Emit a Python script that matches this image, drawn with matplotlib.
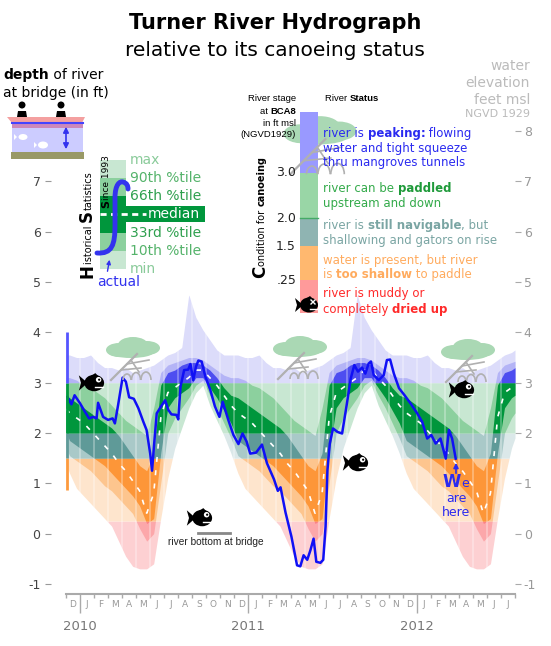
import numpy as np
import pandas as pd
import matplotlib
matplotlib.use("Agg")
import matplotlib.pyplot as plt
from matplotlib.patches import Rectangle, Ellipse, Polygon, Arc, PathPatch, FancyArrowPatch
from matplotlib.path import Path
from matplotlib.lines import Line2D

plt.rcParams['font.family'] = ['DejaVu Sans']
plt.rcParams['axes.unicode_minus'] = False

W, H = 551, 646

# historical stage statistics (ft), half-month steps of a year starting in December
stat_t = np.arange(0.25, 12, 0.5)
p_min = [1.2, 0.9, 0.75, 0.6, 0.45, 0.3, 0.15, -0.15, -0.45, -0.65, -0.7, -0.7,
         -0.6, 0.3, 1.1, 1.7, 2.1, 2.5, 2.8, 2.95, 2.55, 2.25, 1.95, 1.6]
p10 = [1.55, 1.45, 1.35, 1.25, 1.1, 0.95, 0.85, 0.7, 0.55, 0.4, 0.1, -0.15,
       0.0, 1.0, 2.0, 2.3, 2.5, 2.7, 2.95, 3.05, 2.75, 2.5, 2.2, 1.9]
p33 = [1.85, 1.75, 1.65, 1.55, 1.45, 1.35, 1.2, 1.05, 0.9, 0.75, 0.55, 0.2,
       0.3, 1.6, 2.5, 2.7, 2.8, 2.9, 3.1, 3.1, 2.9, 2.7, 2.45, 2.2]
p50 = [2.4, 2.3, 2.2, 2.05, 1.9, 1.75, 1.6, 1.4, 1.25, 1.05, 0.85, 0.4,
       0.8, 2.3, 2.8, 2.9, 3.0, 3.1, 3.25, 3.25, 3.1, 2.95, 2.75, 2.55]
p66 = [2.7, 2.6, 2.5, 2.4, 2.3, 2.2, 2.1, 1.95, 1.75, 1.55, 1.35, 1.25,
       1.6, 2.95, 3.2, 3.25, 3.35, 3.4, 3.4, 3.35, 3.25, 3.1, 2.9, 2.75]
p90 = [3.1, 3.05, 2.95, 2.9, 2.8, 2.7, 2.55, 2.4, 2.25, 2.15, 2.05, 1.95,
       2.5, 3.2, 3.35, 3.4, 3.45, 3.5, 3.5, 3.45, 3.35, 3.25, 3.15, 3.1]
p_max = [3.55, 3.5, 3.5, 3.55, 3.4, 3.3, 3.3, 3.25, 3.3, 3.2, 3.25, 3.3,
         3.35, 3.45, 3.55, 3.6, 3.7, 4.75, 4.3, 4.05, 3.85, 3.65, 3.55, 3.55]

# actual river stage
actual_dates = ['2009-12-04', '2009-12-13', '2009-12-20', '2010-01-01', '2010-01-12', '2010-01-21',
                '2010-01-30', '2010-02-06', '2010-02-09', '2010-02-19', '2010-03-01', '2010-03-11',
                '2010-03-16', '2010-03-23', '2010-04-02', '2010-04-09', '2010-04-16', '2010-04-26',
                '2010-05-06', '2010-05-17', '2010-05-24', '2010-06-01', '2010-06-05', '2010-06-09',
                '2010-06-15', '2010-06-23', '2010-07-03', '2010-07-10', '2010-07-17', '2010-07-28',
                '2010-08-01', '2010-08-06', '2010-08-14', '2010-08-23', '2010-08-28', '2010-09-03',
                '2010-09-09', '2010-09-14', '2010-09-21', '2010-09-29', '2010-10-10', '2010-10-20',
                '2010-10-30', '2010-11-06', '2010-11-18', '2010-11-29', '2010-12-10', '2010-12-19',
                '2010-12-28', '2011-01-05', '2011-01-18', '2011-01-31', '2011-02-10', '2011-02-24',
                '2011-03-04', '2011-03-10', '2011-03-21', '2011-04-03', '2011-04-15', '2011-04-22',
                '2011-04-29', '2011-05-07', '2011-05-14', '2011-05-21', '2011-05-27', '2011-06-05',
                '2011-06-11', '2011-06-16', '2011-06-20', '2011-06-25', '2011-07-02', '2011-07-12',
                '2011-07-22', '2011-08-01', '2011-08-10', '2011-08-18', '2011-08-26', '2011-09-04',
                '2011-09-11', '2011-09-18', '2011-09-23', '2011-09-29', '2011-10-10', '2011-10-21',
                '2011-10-28', '2011-11-04', '2011-11-12', '2011-11-23', '2011-12-05', '2011-12-18',
                '2012-01-02', '2012-01-13', '2012-01-24', '2012-02-02', '2012-02-11', '2012-02-21',
                '2012-03-03', '2012-03-10', '2012-03-17', '2012-03-25']
actual_stage = [2.72, 2.57, 2.75, 2.59, 2.42, 2.29, 2.32, 2.29, 2.60, 2.32, 2.26, 2.29,
                2.19, 2.55, 3.10, 3.02, 2.71, 2.68, 2.49, 2.22, 2.06, 1.59, 1.25, 1.73,
                2.39, 2.51, 2.65, 2.46, 2.37, 2.36, 2.27, 2.92, 3.25, 3.26, 3.37, 3.05,
                3.32, 3.44, 3.42, 3.12, 2.85, 2.53, 2.32, 2.62, 2.26, 1.96, 1.78, 1.99,
                1.83, 1.59, 1.61, 1.77, 1.40, 1.08, 0.85, 0.92, 0.42, -0.06, -0.63, -0.65,
                -0.43, -0.52, -0.33, -0.10, -0.56, -0.58, -0.52, 0.14, 1.26, 1.79, 2.09, 2.02,
                1.99, 2.55, 3.08, 3.35, 3.22, 3.30, 3.18, 3.38, 3.42, 3.15, 3.05, 3.15,
                3.45, 3.46, 3.18, 2.89, 2.75, 2.59, 2.39, 2.22, 1.89, 1.96, 1.79, 1.89,
                1.49, 2.06, 1.89, 1.49]

# canoeing zones: dried up, too shallow, navigable, paddled, peaking
zone_edges = [-5, 0.25, 1.5, 2.0, 3.0, 10]
zone_light = ['#fdd0d2', '#fee5cd', '#dbe8e9', '#c8e7d2', '#dcdcfa']
zone_mid = ['#fca7aa', '#fdc58e', '#a9c9c8', '#8cd09e', '#b4b4f6']
zone_dark = ['#fb8184', '#fd9638', '#5f9a98', '#00963c', '#4d4df0']
zone_bar = ['#ff5555', '#fd9a3d', '#5f9a98', '#009a3e', '#5555ff']
legend_colors = ['#ff9a9a', '#ffb86f', '#8fb4b2', '#99d6a6', '#9999ff']
today_range = [0.86, 4.0]

month_letters = list('DJFMAMJJASONDJFMAMJJASONDJFMAMJJ')
year_labels = ['2010', '2011', '2012']
year_pos = [1, 13, 25]


def month_index(d):
    d = pd.Timestamp(d)
    return (d.year - 2009) * 12 + d.month - 12 + (d.day - 1) / d.days_in_month


fig = plt.figure(figsize=(W / 100, H / 100), dpi=100)
ax = fig.add_axes([66 / W, 1 - 594 / H, 449 / W, 478 / H])

t = np.linspace(0, 32, 1601)


def seasonal(v):
    return np.interp(t, stat_t, v, period=12)


levels = [(seasonal(p_min), seasonal(p_max)), (seasonal(p10), seasonal(p90)),
          (seasonal(p33), seasonal(p66))]
for (low, high), shades in zip(levels, [zone_light, zone_mid, zone_dark]):
    for i in range(5):
        a = np.clip(low, zone_edges[i], zone_edges[i + 1])
        b = np.clip(high, zone_edges[i], zone_edges[i + 1])
        ax.fill_between(t, a, b, color=shades[i], lw=0, antialiased=False, zorder=1)

ax.vlines(np.arange(1, 32), -1.2, 5, colors='white', alpha=0.35, lw=1.2, zorder=1.5)
ax.plot(t, seasonal(p50), color='white', lw=1.2, dashes=(3, 5), zorder=2)

at = [month_index(d) for d in actual_dates]
ax.plot(at, actual_stage, color='#1010f5', lw=1.8, zorder=3)

for i in range(5):
    lo = max(zone_edges[i], today_range[0])
    hi = min(zone_edges[i + 1], today_range[1])
    if hi > lo:
        ax.plot([0.06, 0.06], [lo, hi], color=zone_bar[i], lw=2,
                solid_capstyle='butt', clip_on=False, zorder=3)

ax.set_xlim(0, 32)
ax.set_ylim(-1.2, 8.3)
for s in ['top', 'right', 'left']:
    ax.spines[s].set_visible(False)
ax.spines['left'].set_position(('outward', 11))
ax.spines['bottom'].set_color('#aaaaaa')
ax.spines['bottom'].set_linewidth(1.5)
ax.set_yticks(range(-1, 8))
ax.tick_params(axis='y', length=4.3, color='#999999', labelcolor='#444444', labelsize=9, pad=3)
ax.set_xticks(year_pos, year_labels)
ax.set_xticks(np.arange(0, 33), minor=True)
ax.tick_params(axis='x', which='major', length=13.7, width=1, color='#aaaaaa',
               labelcolor='#777777', labelsize=9.5, pad=5)
ax.tick_params(axis='x', which='minor', length=2.9, width=1, color='#aaaaaa')
for i, l in enumerate(month_letters):
    ax.text(i + 0.5, -0.021, l, transform=ax.get_xaxis_transform(), ha='center',
            va='center', fontsize=6.5, color='#999999')

sec = ax.secondary_yaxis('right')
sec.set_yticks(range(-1, 9))
sec.spines['right'].set_visible(False)
sec.tick_params(length=4.3, color='#aaaaaa', labelcolor='#999999', labelsize=9, pad=2)

# ---- drawing helpers in figure pixels (y downward)
TF = fig.transFigure
renderer = fig.canvas.get_renderer()


def F(x, y):
    return (x / W, 1 - y / H)


def rect(x0, y0, x1, y1, color, z=5):
    fig.add_artist(Rectangle(F(x0, y1), (x1 - x0) / W, (y1 - y0) / H, facecolor=color,
                             edgecolor='none', transform=TF, zorder=z))


def poly(pts, color, z=5):
    fig.add_artist(Polygon([F(*p) for p in pts], closed=True, facecolor=color,
                           edgecolor='none', transform=TF, zorder=z))


def ell(cx, cy, w, h, color, z=5):
    fig.add_artist(Ellipse(F(cx, cy), w / W, h / H, facecolor=color, edgecolor='none',
                           transform=TF, zorder=z))


def line(xs, ys, color, lw, z=5, **kw):
    fig.add_artist(Line2D([x / W for x in xs], [1 - y / H for y in ys], color=color, lw=lw,
                          transform=TF, zorder=z, **kw))


def arc(cx, cy, w, h, color, lw, z=5):
    fig.add_artist(Arc(F(cx, cy), w / W, h / H, theta1=0, theta2=180, color=color, lw=lw,
                       transform=TF, zorder=z))


def txt(x, y, s, **kw):
    fig.text(x / W, 1 - y / H, s, zorder=7, **kw)


def text_width(s, **kw):
    a = fig.text(0, 0, '|' + s + '|', **kw)
    b = fig.text(0, 0, '||', **kw)
    w = a.get_window_extent(renderer).width - b.get_window_extent(renderer).width
    a.remove()
    b.remove()
    return w


def rich(x, y, parts, size, color, rot=0, align='left', family=None):
    props = []
    for s, kw in parts:
        p = dict(fontsize=size, color=color)
        if family:
            p['family'] = family
        p.update(kw)
        props.append((s, p))
    if align == 'right':
        x -= sum(text_width(s, **p) for s, p in props)
    elif align == 'center':
        x -= sum(text_width(s, **p) for s, p in props) / 2
    for s, p in props:
        fig.text(x / W, 1 - y / H, s, ha='left', va='baseline', rotation=rot,
                 rotation_mode='anchor', zorder=7, **p)
        w = text_width(s, **p)
        if rot == 0:
            x += w
        else:
            y -= w


B = {'weight': 'bold'}


def fish(cx, cy, s=1.0, dead=False):
    poly([(cx - 4 * s, cy), (cx - 12 * s, cy - 7 * s), (cx - 10 * s, cy),
          (cx - 12 * s, cy + 7 * s)], 'black', z=6)
    poly([(cx - 3 * s, cy - 5 * s), (cx + 3 * s, cy - 9 * s), (cx + 6 * s, cy - 6 * s)], 'black', z=6)
    ell(cx + 2 * s, cy, 18 * s, 15 * s, 'black', z=6)
    if dead:
        line([cx + 4 * s, cx + 8 * s], [cy - 5 * s, cy - 1 * s], 'white', 1, z=6.5)
        line([cx + 4 * s, cx + 8 * s], [cy - 1 * s, cy - 5 * s], 'white', 1, z=6.5)
    else:
        ell(cx + 6 * s, cy - 3 * s, 5 * s, 5 * s, 'white', z=6.5)
        ell(cx + 6.5 * s, cy - 3 * s, 2 * s, 2 * s, 'black', z=6.6)
    line([cx + 3 * s, cx + 10 * s], [cy + 4 * s, cy + 4 * s], 'white', 1, z=6.5)


def tree(cx, cy, s=1.0):
    g = '#b0b0b0'
    for (dx, dy, w, h) in [(-14, 2, 26, 14), (0, -3, 30, 16), (14, 0, 26, 14), (-2, 4, 46, 12)]:
        ell(cx + dx * s, cy + dy * s, w * s, h * s, '#aad8b4', z=5)
    line([cx + 4 * s, cx - 22 * s], [cy + 6 * s, cy + 32 * s], g, 1.6, z=5.5)
    line([cx - 6 * s, cx + 16 * s], [cy + 16 * s, cy + 12 * s], g, 1.2, z=5.5)
    line([cx - 12 * s, cx + 8 * s], [cy + 22 * s, cy + 20 * s], g, 1.2, z=5.5)
    line([cx - 2 * s, cx + 6 * s], [cy + 12 * s, cy + 24 * s], g, 1.2, z=5.5)
    for (dx, w, h) in [(-6, 8, 12), (3, 9, 15), (13, 10, 16)]:
        arc(cx + dx * s, cy + 32 * s, w * s, h * s, g, 1.2, z=5.5)


# ---- titles
txt(275, 23, 'Turner River Hydrograph', ha='center', va='center', fontsize=15, weight='bold')
txt(275, 51, 'relative to its canoeing status', ha='center', va='center', fontsize=14.5)

# ---- depth pictogram
rich(3, 79, [('depth', B), (' of river', {})], 10, 'black')
rich(3, 97, [('at bridge (in ft)', {})], 10, 'black')
rect(12, 123, 83, 152, '#ccccff')
rect(12, 123, 83, 128, '#cc88bb')
poly([(7, 117), (85, 117), (82, 123), (12, 123)], '#f4a0a0')
line([12, 83], [123, 123], '#4444ff', 1.5)
rect(11, 152, 84, 159, '#999966')
for px in [22, 61]:
    ell(px, 105, 7, 7, 'black')
    poly([(px - 5, 117), (px - 4, 111), (px + 4, 111), (px + 5, 117)], 'black')
ell(23, 137, 9, 6, 'white', z=5.5)
poly([(17, 137), (14, 134), (14, 140)], 'white', z=5.5)
ell(43, 145, 10, 7, 'white', z=5.5)
poly([(37, 145), (34, 142), (34, 148)], 'white', z=5.5)
fig.add_artist(FancyArrowPatch(F(66, 124), F(66, 152), arrowstyle='<|-|>', mutation_scale=8,
                               color='#3333ee', lw=1.2, transform=TF, zorder=6))

# ---- historical statistics legend
band_rows = [(160, 178, zone_light[3]), (178, 196, zone_mid[3]), (196, 233, zone_dark[3]),
             (233, 251, zone_mid[3]), (251, 269, zone_light[3])]
for y0, y1, c in band_rows:
    rect(100, y0, 126, y1, c)
rect(126, 206, 205, 222, zone_dark[3])
line([100, 146], [214, 214], 'white', 2, z=6, dashes=(2.2, 1.6))
for y, s, c in [(160, 'max', '#8acb9a'), (178, '90th %tile', '#55b36b'), (196, '66th %tile', '#2ea04e'),
                (233, '33rd %tile', '#2ea04e'), (251, '10th %tile', '#55b36b'), (269, 'min', '#8acb9a')]:
    txt(130, y, s, ha='left', va='center', fontsize=10, color=c)
txt(148, 214, 'median', ha='left', va='center', fontsize=10, color='white')
verts = [F(97, 253), F(112, 254), F(115, 245), F(115, 225), F(115, 198),
         F(115, 184), F(120, 181), F(123, 182), F(127, 183), F(128, 186), F(128, 189)]
codes = [Path.MOVETO, Path.CURVE4, Path.CURVE4, Path.CURVE4, Path.LINETO,
         Path.CURVE4, Path.CURVE4, Path.CURVE4, Path.CURVE4, Path.CURVE4, Path.CURVE4]
fig.add_artist(PathPatch(Path(verts, codes), facecolor='none', edgecolor='#3333ee', lw=3.5,
                         capstyle='round', transform=TF, zorder=6))
txt(97, 282, 'actual', ha='left', va='center', fontsize=10, color='#3333ee')
fig.add_artist(FancyArrowPatch(F(107, 274), F(110, 257), arrowstyle='-|>', mutation_scale=6,
                               color='#3333ee', lw=1, transform=TF, zorder=6))
rich(92, 278, [('H', {'fontsize': 12, 'weight': 'bold'}), ('istorical ', {}),
               ('S', {'fontsize': 12, 'weight': 'bold'}), ('tatistics', {})], 7, 'black', rot=90)
rich(109, 208, [('S', {'fontsize': 8, 'weight': 'bold'}), ('ince 1993', {})], 6.5, 'black', rot=90)

# ---- canoeing status legend
tree(320, 131, 1.35)
rich(296, 101, [('River stage', {})], 6.8, 'black', align='right', family='Liberation Sans')
rich(296, 114, [('at ', {}), ('BCA8', B)], 6.8, 'black', align='right', family='Liberation Sans')
rich(296, 126, [('in ft msl', {})], 6.8, 'black', align='right', family='Liberation Sans')
rich(296, 137, [('(NGVD1929)', {})], 6.8, 'black', align='right', family='Liberation Sans')
rich(325, 101, [('River ', {}), ('Status', B)], 6.8, 'black', family='Liberation Sans')
bar_rows = [(112, 173, legend_colors[4]), (173, 218, legend_colors[3]), (218, 246, legend_colors[2]),
            (246, 280, legend_colors[1]), (280, 313, legend_colors[0])]
for y0, y1, c in bar_rows:
    rect(300, y0, 318, y1, c, z=5.2)
line([300, 318], [218, 218], '#44aa66', 1, z=5.3)
for y, s in [(173, '3.0'), (218, '2.0'), (246, '1.5'), (280, '.25')]:
    txt(296, y, s, ha='right', va='center', fontsize=9, color='#222222')
rich(265, 278, [('C', {'fontsize': 12, 'weight': 'bold'}), ('ondition for ', {}),
                ('canoeing', B)], 7, 'black', rot=90)
fish(307, 305, 1.0, dead=True)

rich(323, 137, [('river is ', {}), ('peaking:', B), (' flowing', {})], 8.5, '#2a2af0')
rich(323, 152, [('water and tight squeeze', {})], 8.5, '#2a2af0')
rich(323, 166, [('thru mangroves tunnels', {})], 8.5, '#2a2af0')
rich(323, 192, [('river can be ', {}), ('paddled', {'weight': 'bold', 'color': '#1f9a3a'})], 8.5, '#33aa4a')
rich(323, 207, [('upstream and down', {})], 8.5, '#33aa4a')
rich(323, 229, [('river is ', {}), ('still navigable', B), (', but', {})], 8.5, '#7aa5a3')
rich(323, 244, [('shallowing and gators on rise', {})], 8.5, '#7aa5a3')
rich(323, 264, [('water is present, but river', {})], 8.5, '#ffab5e')
rich(323, 278, [('is ', {}), ('too shallow', B), (' to paddle', {})], 8.5, '#ffab5e')
rich(323, 297, [('river is muddy or', {})], 8.5, '#ff2a2a')
rich(323, 313, [('completely ', {}), ('dried up', B)], 8.5, '#ff2a2a')

# ---- right axis title
for y, s, fs in [(66, 'water', 10), (83, 'elevation', 10), (100, 'feet msl', 10), (114, 'NGVD 1929', 8)]:
    txt(530, y, s, ha='right', va='center', fontsize=fs, color='#bbbbbb')

# ---- decorations inside the chart
for cx, cy in [(133, 348), (300, 347), (468, 350)]:
    tree(cx, cy, 1.0)
for cx, cy in [(92, 383), (200, 518), (356, 463), (462, 390)]:
    fish(cx, cy, 1.1)
line([198, 230], [533, 533], '#888888', 2)
txt(216, 542, 'river bottom at bridge', ha='center', va='center', fontsize=7.3,
    family='Liberation Sans', color='#222222')
fig.add_artist(FancyArrowPatch(F(456, 476), F(456, 460), arrowstyle='-|>', mutation_scale=7,
                               color='#2a2af0', lw=1.2, transform=TF, zorder=6))
rich(456, 487, [('W', {'fontsize': 12, 'weight': 'bold'}), ('e', {})], 9, '#2a2af0', align='center')
txt(456, 498, 'are', ha='center', va='center', fontsize=9, color='#2a2af0')
txt(456, 513, 'here', ha='center', va='center', fontsize=9, color='#2a2af0')

fig.savefig('out.png', dpi=100)
